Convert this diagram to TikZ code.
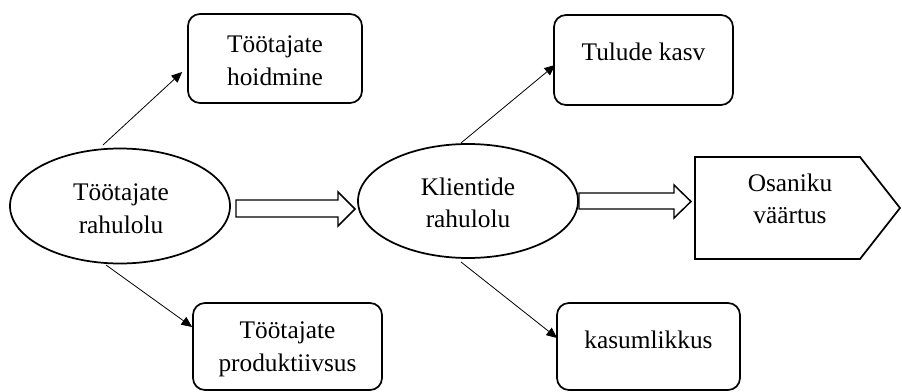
\documentclass[tikz,border=0pt]{standalone}
\usepackage{fontspec}
\setmainfont{Liberation Serif}
\usetikzlibrary{shapes.geometric,arrows.meta,calc}
\begin{document}
\begin{tikzpicture}[x=0.75pt,y=-0.75pt,
  every node/.style={font=\fontsize{19pt}{24.5pt}\selectfont, align=center, inner sep=0pt},
  boxnode/.style={draw, rounded corners=9pt, line width=1.3pt},
  ellnode/.style={draw, ellipse, line width=1.3pt},
  conn/.style={line width=0.6pt, -{Triangle[length=8pt,width=7pt]}},
  hollow/.style={draw, line width=1.1pt, line join=miter}]
\useasboundingbox (0,0) rectangle (902,392);

\node[ellnode, minimum width=165pt, minimum height=86.25pt] (e1) at (120,206) {};
\node (t1) at (121,209) {Töötajate\\rahulolu};
\node[ellnode, minimum width=165pt, minimum height=85.5pt] (e2) at (468,201) {};
\node (t2) at (468,203) {Klientide\\rahulolu};

\node[boxnode, minimum width=130.5pt, minimum height=66.75pt] (b1) at (275,58.5) {};
\node (tb1) at (275,61) {Töötajate\\hoidmine};
\node[boxnode, minimum width=141.75pt, minimum height=65.25pt] (b2) at (287.5,346.5) {};
\node (tb2) at (287.5,349) {Töötajate\\produktiivsus};
\node[boxnode, minimum width=134.25pt, minimum height=67.5pt] (b3) at (643.5,60) {};
\node (tb3) at (643.5,52) {Tulude kasv};
\node[boxnode, minimum width=137.25pt, minimum height=65.25pt] (b4) at (648.5,346.5) {};
\node (tb4) at (648.5,340) {kasumlikkus};

\draw[line width=1.3pt, line join=miter] (695,157) -- (860,157) -- (900,208) -- (860,259) -- (695,259) -- cycle;
\coordinate (p) at (777.5,208);
\node (tp) at (790,199) {Osaniku\\väärtus};

\draw[conn] ($(e1.center)+(-17,-61)$) -- ($(b1.west)+(-5,13.5)$);
\draw[conn] ($(e1.center)+(-14,59)$) -- ($(b2.west)+(0,-19.5)$);
\draw[conn] ($(e2.center)+(-7,-58)$) -- ($(b3.west)+(2,5)$);
\draw[conn] ($(e2.center)+(-7,61)$) -- ($(b4.west)+(1,-8.5)$);

\draw[hollow] (236,200) -- (338,200) -- (338,192) -- (355,209) -- (338,226) -- (338,217) -- (236,217) -- cycle;
\draw[hollow] (579,193) -- (674,193) -- (674,185) -- (691,201.5) -- (674,218) -- (674,209) -- (579,209) -- cycle;
\end{tikzpicture}
\end{document}
